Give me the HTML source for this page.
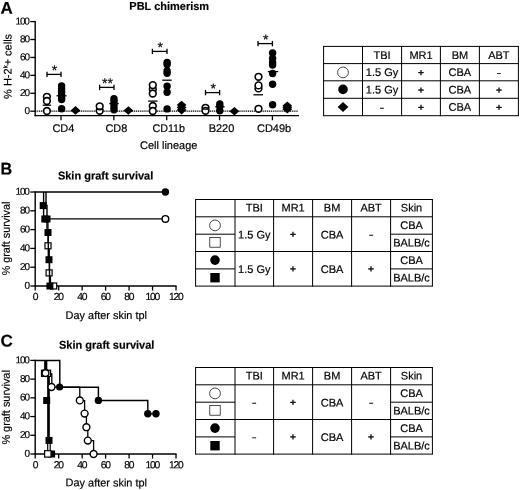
<!DOCTYPE html>
<html><head><meta charset="utf-8"><title>Figure</title>
<style>html,body{margin:0;padding:0;background:#fff}svg{display:block;will-change:transform}text{font-family:"Liberation Sans", sans-serif;fill:#000;text-rendering:geometricPrecision;stroke:#000;stroke-width:0.18px}</style>
</head><body>
<svg width="520" height="490" viewBox="0 0 520 490">
<rect width="520" height="490" fill="#fff"/>
<text x="0.5" y="13.7" transform="rotate(0.03 0.5 13.7)" font-size="17" text-anchor="start" font-weight="bold" >A</text>
<text x="169.2" y="9.9" transform="rotate(0.03 169.2 9.9)" font-size="11.3" text-anchor="middle" font-weight="bold" textLength="79.8" lengthAdjust="spacingAndGlyphs" >PBL chimerism</text>
<line x1="35.2" y1="20.9" x2="35.2" y2="116.3" stroke="#000" stroke-width="1.4" />
<line x1="34.5" y1="115.6" x2="299" y2="115.6" stroke="#000" stroke-width="1.4" />
<line x1="30.3" y1="111.2" x2="35.2" y2="111.2" stroke="#000" stroke-width="1.3" />
<text x="28.8" y="114.0" transform="rotate(0.03 28.8 114.0)" font-size="10" text-anchor="end" letter-spacing="-1.15">0</text>
<line x1="30.3" y1="93.28" x2="35.2" y2="93.28" stroke="#000" stroke-width="1.3" />
<text x="28.8" y="96.08" transform="rotate(0.03 28.8 96.08)" font-size="10" text-anchor="end" letter-spacing="-1.15">20</text>
<line x1="30.3" y1="75.36" x2="35.2" y2="75.36" stroke="#000" stroke-width="1.3" />
<text x="28.8" y="78.16" transform="rotate(0.03 28.8 78.16)" font-size="10" text-anchor="end" letter-spacing="-1.15">40</text>
<line x1="30.3" y1="57.44" x2="35.2" y2="57.44" stroke="#000" stroke-width="1.3" />
<text x="28.8" y="60.239999999999995" transform="rotate(0.03 28.8 60.239999999999995)" font-size="10" text-anchor="end" letter-spacing="-1.15">60</text>
<line x1="30.3" y1="39.519999999999996" x2="35.2" y2="39.519999999999996" stroke="#000" stroke-width="1.3" />
<text x="28.8" y="42.31999999999999" transform="rotate(0.03 28.8 42.31999999999999)" font-size="10" text-anchor="end" letter-spacing="-1.15">80</text>
<line x1="30.3" y1="21.599999999999994" x2="35.2" y2="21.599999999999994" stroke="#000" stroke-width="1.3" />
<text x="28.8" y="24.399999999999995" transform="rotate(0.03 28.8 24.399999999999995)" font-size="10" text-anchor="end" letter-spacing="-1.15">100</text>
<line x1="35.2" y1="111.2" x2="298" y2="111.2" stroke="#000" stroke-width="1.3" stroke-dasharray="1.2 0.7"/>
<line x1="61" y1="115.6" x2="61" y2="120.2" stroke="#000" stroke-width="1.3" />
<line x1="113.85" y1="115.6" x2="113.85" y2="120.2" stroke="#000" stroke-width="1.3" />
<line x1="166.7" y1="115.6" x2="166.7" y2="120.2" stroke="#000" stroke-width="1.3" />
<line x1="219.55" y1="115.6" x2="219.55" y2="120.2" stroke="#000" stroke-width="1.3" />
<line x1="272.4" y1="115.6" x2="272.4" y2="120.2" stroke="#000" stroke-width="1.3" />
<text transform="translate(11.6,66.4) rotate(-90.03)" font-size="11" text-anchor="middle">% H-2<tspan font-size="6" dy="-4.2">k</tspan><tspan dy="4.2">+ cells</tspan></text>
<text x="63.4" y="132" transform="rotate(0.03 63.4 132)" font-size="11" text-anchor="middle" textLength="22" lengthAdjust="spacingAndGlyphs" >CD4</text>
<text x="116.4" y="132" transform="rotate(0.03 116.4 132)" font-size="11" text-anchor="middle" textLength="21.8" lengthAdjust="spacingAndGlyphs" >CD8</text>
<text x="168.7" y="132" transform="rotate(0.03 168.7 132)" font-size="11" text-anchor="middle" textLength="32.6" lengthAdjust="spacingAndGlyphs" >CD11b</text>
<text x="221.5" y="132" transform="rotate(0.03 221.5 132)" font-size="11" text-anchor="middle" >B220</text>
<text x="274.1" y="132" transform="rotate(0.03 274.1 132)" font-size="11" text-anchor="middle" >CD49b</text>
<text x="168.7" y="149" transform="rotate(0.03 168.7 149)" font-size="11" text-anchor="middle" textLength="57.4" lengthAdjust="spacingAndGlyphs" >Cell lineage</text>
<circle cx="46.9" cy="96.8" r="3.35" fill="#fff" stroke="#000" stroke-width="1.6"/>
<circle cx="46.9" cy="101" r="3.35" fill="#fff" stroke="#000" stroke-width="1.6"/>
<circle cx="46.9" cy="111" r="3.35" fill="#fff" stroke="#000" stroke-width="1.6"/>
<line x1="42.699999999999996" y1="105.2" x2="51.1" y2="105.2" stroke="#000" stroke-width="1.3" />
<circle cx="61.6" cy="86" r="3.7" fill="#000"/>
<circle cx="61.6" cy="89" r="3.7" fill="#000"/>
<circle cx="61.6" cy="92" r="3.7" fill="#000"/>
<circle cx="61.6" cy="95" r="3.7" fill="#000"/>
<circle cx="61.6" cy="98" r="3.7" fill="#000"/>
<circle cx="61.6" cy="99.6" r="3.7" fill="#000"/>
<circle cx="61.6" cy="108.7" r="3.7" fill="#000"/>
<line x1="56.5" y1="95.8" x2="66.5" y2="95.8" stroke="#000" stroke-width="1.3" />
<polygon points="70.6,110.4 75.5,106.10000000000001 80.4,110.4 75.5,114.7" fill="#000"/>
<line x1="47" y1="74.4" x2="61" y2="74.4" stroke="#000" stroke-width="1.3" />
<line x1="47" y1="71.7" x2="47" y2="77.10000000000001" stroke="#000" stroke-width="1.3" />
<line x1="61" y1="71.7" x2="61" y2="77.10000000000001" stroke="#000" stroke-width="1.3" />
<text x="54.6" y="75.10000000000001" transform="rotate(0.03 54.6 75.10000000000001)" font-size="14" text-anchor="middle" >*</text>
<circle cx="99.7" cy="110.8" r="3.35" fill="#fff" stroke="#000" stroke-width="1.6"/>
<circle cx="99.7" cy="106.3" r="3.35" fill="#fff" stroke="#000" stroke-width="1.6"/>
<line x1="96.10000000000001" y1="109.1" x2="103.3" y2="109.1" stroke="#000" stroke-width="1.3" />
<circle cx="114" cy="98.8" r="3.7" fill="#000"/>
<circle cx="114" cy="101" r="3.7" fill="#000"/>
<circle cx="114" cy="104" r="3.7" fill="#000"/>
<circle cx="114" cy="107" r="3.7" fill="#000"/>
<circle cx="114" cy="109.7" r="3.7" fill="#000"/>
<line x1="109.3" y1="103.6" x2="118.7" y2="103.6" stroke="#000" stroke-width="1.3" />
<polygon points="123.5,110.5 128.4,106.2 133.3,110.5 128.4,114.8" fill="#000"/>
<line x1="99.6" y1="87.4" x2="114" y2="87.4" stroke="#000" stroke-width="1.3" />
<line x1="99.6" y1="84.7" x2="99.6" y2="90.10000000000001" stroke="#000" stroke-width="1.3" />
<line x1="114" y1="84.7" x2="114" y2="90.10000000000001" stroke="#000" stroke-width="1.3" />
<text x="107.39999999999999" y="88.10000000000001" transform="rotate(0.03 107.39999999999999 88.10000000000001)" font-size="14" text-anchor="middle" >**</text>
<circle cx="152.8" cy="89.3" r="3.35" fill="#fff" stroke="#000" stroke-width="1.6"/>
<circle cx="152.8" cy="85.1" r="3.35" fill="#fff" stroke="#000" stroke-width="1.6"/>
<circle cx="152.8" cy="93.5" r="3.35" fill="#fff" stroke="#000" stroke-width="1.6"/>
<circle cx="152.8" cy="106" r="3.35" fill="#fff" stroke="#000" stroke-width="1.6"/>
<circle cx="152.8" cy="111" r="3.35" fill="#fff" stroke="#000" stroke-width="1.6"/>
<line x1="148.10000000000002" y1="101.1" x2="157.5" y2="101.1" stroke="#000" stroke-width="1.3" />
<circle cx="167.1" cy="62.4" r="3.7" fill="#000"/>
<circle cx="167.1" cy="64.5" r="3.7" fill="#000"/>
<circle cx="167.1" cy="71" r="3.7" fill="#000"/>
<circle cx="167.1" cy="73.2" r="3.7" fill="#000"/>
<circle cx="167.1" cy="86.3" r="3.7" fill="#000"/>
<circle cx="167.1" cy="92.2" r="3.7" fill="#000"/>
<circle cx="167.1" cy="108.9" r="3.7" fill="#000"/>
<line x1="162.3" y1="80.2" x2="171.7" y2="80.2" stroke="#000" stroke-width="1.3" />
<polygon points="176.7,105 181.6,100.7 186.5,105 181.6,109.3" fill="#000"/>
<polygon points="176.7,107.6 181.6,103.3 186.5,107.6 181.6,111.89999999999999" fill="#000"/>
<polygon points="176.7,110.1 181.6,105.8 186.5,110.1 181.6,114.39999999999999" fill="#000"/>
<line x1="152.4" y1="51.4" x2="167" y2="51.4" stroke="#000" stroke-width="1.3" />
<line x1="152.4" y1="48.699999999999996" x2="152.4" y2="54.1" stroke="#000" stroke-width="1.3" />
<line x1="167" y1="48.699999999999996" x2="167" y2="54.1" stroke="#000" stroke-width="1.3" />
<text x="160.29999999999998" y="52.1" transform="rotate(0.03 160.29999999999998 52.1)" font-size="14" text-anchor="middle" >*</text>
<circle cx="205.5" cy="107.8" r="3.35" fill="#fff" stroke="#000" stroke-width="1.6"/>
<circle cx="205.5" cy="110.8" r="3.35" fill="#fff" stroke="#000" stroke-width="1.6"/>
<line x1="201.9" y1="109.1" x2="209.1" y2="109.1" stroke="#000" stroke-width="1.3" />
<circle cx="219.8" cy="103.9" r="3.7" fill="#000"/>
<circle cx="219.8" cy="106.5" r="3.7" fill="#000"/>
<circle cx="219.8" cy="110.7" r="3.7" fill="#000"/>
<line x1="215.20000000000002" y1="106.8" x2="224.6" y2="106.8" stroke="#000" stroke-width="1.3" />
<polygon points="229.5,111.2 234.4,106.9 239.3,111.2 234.4,115.5" fill="#000"/>
<line x1="205.5" y1="92.6" x2="219.6" y2="92.6" stroke="#000" stroke-width="1.3" />
<line x1="205.5" y1="89.89999999999999" x2="205.5" y2="95.3" stroke="#000" stroke-width="1.3" />
<line x1="219.6" y1="89.89999999999999" x2="219.6" y2="95.3" stroke="#000" stroke-width="1.3" />
<text x="213.15" y="93.3" transform="rotate(0.03 213.15 93.3)" font-size="14" text-anchor="middle" >*</text>
<circle cx="258.5" cy="88.4" r="3.35" fill="#fff" stroke="#000" stroke-width="1.6"/>
<circle cx="258.5" cy="85.4" r="3.35" fill="#fff" stroke="#000" stroke-width="1.6"/>
<circle cx="258.5" cy="76.8" r="3.35" fill="#fff" stroke="#000" stroke-width="1.6"/>
<circle cx="258.5" cy="108.8" r="3.35" fill="#fff" stroke="#000" stroke-width="1.6"/>
<line x1="253.39999999999998" y1="94.8" x2="263.0" y2="94.8" stroke="#000" stroke-width="1.3" />
<circle cx="272.6" cy="52.9" r="3.7" fill="#000"/>
<circle cx="272.6" cy="58.5" r="3.7" fill="#000"/>
<circle cx="272.6" cy="62.4" r="3.7" fill="#000"/>
<circle cx="272.6" cy="65" r="3.7" fill="#000"/>
<circle cx="272.6" cy="73.5" r="3.7" fill="#000"/>
<circle cx="272.6" cy="84.3" r="3.7" fill="#000"/>
<circle cx="272.6" cy="104.7" r="3.7" fill="#000"/>
<line x1="267.8" y1="71.6" x2="278.2" y2="71.6" stroke="#000" stroke-width="1.3" />
<polygon points="282.40000000000003,105.7 287.3,101.4 292.2,105.7 287.3,110.0" fill="#000"/>
<polygon points="282.40000000000003,107.5 287.3,103.2 292.2,107.5 287.3,111.8" fill="#000"/>
<polygon points="282.40000000000003,109.2 287.3,104.9 292.2,109.2 287.3,113.5" fill="#000"/>
<line x1="258" y1="43.6" x2="272.4" y2="43.6" stroke="#000" stroke-width="1.3" />
<line x1="258" y1="40.9" x2="258" y2="46.300000000000004" stroke="#000" stroke-width="1.3" />
<line x1="272.4" y1="40.9" x2="272.4" y2="46.300000000000004" stroke="#000" stroke-width="1.3" />
<text x="265.8" y="44.300000000000004" transform="rotate(0.03 265.8 44.300000000000004)" font-size="14" text-anchor="middle" >*</text>
<line x1="323.6" y1="45.9" x2="323.6" y2="116.2" stroke="#000" stroke-width="1.0" />
<line x1="362.5" y1="45.9" x2="362.5" y2="116.2" stroke="#000" stroke-width="1.0" />
<line x1="401.6" y1="45.9" x2="401.6" y2="116.2" stroke="#000" stroke-width="1.0" />
<line x1="440.4" y1="45.9" x2="440.4" y2="116.2" stroke="#000" stroke-width="1.0" />
<line x1="479.4" y1="45.9" x2="479.4" y2="116.2" stroke="#000" stroke-width="1.0" />
<line x1="518.4" y1="45.9" x2="518.4" y2="116.2" stroke="#000" stroke-width="1.0" />
<line x1="323.6" y1="46.4" x2="518.4" y2="46.4" stroke="#000" stroke-width="1.0" />
<line x1="323.6" y1="63.6" x2="518.4" y2="63.6" stroke="#000" stroke-width="1.0" />
<line x1="323.6" y1="80.8" x2="518.4" y2="80.8" stroke="#000" stroke-width="1.0" />
<line x1="323.6" y1="98.3" x2="518.4" y2="98.3" stroke="#000" stroke-width="1.0" />
<line x1="323.6" y1="115.7" x2="518.4" y2="115.7" stroke="#000" stroke-width="1.0" />
<text x="382.05" y="58.9" transform="rotate(0.03 382.05 58.9)" font-size="11" text-anchor="middle" >TBI</text>
<text x="421.0" y="58.9" transform="rotate(0.03 421.0 58.9)" font-size="11" text-anchor="middle" >MR1</text>
<text x="459.9" y="58.9" transform="rotate(0.03 459.9 58.9)" font-size="11" text-anchor="middle" >BM</text>
<text x="498.9" y="58.9" transform="rotate(0.03 498.9 58.9)" font-size="11" text-anchor="middle" >ABT</text>
<circle cx="343" cy="72.4" r="5.4" fill="#fff" stroke="#000" stroke-width="0.7"/>
<text x="382.05" y="76" transform="rotate(0.03 382.05 76)" font-size="11" text-anchor="middle" >1.5 Gy</text>
<text x="421.0" y="76" transform="rotate(0.03 421.0 76)" font-size="10.2" text-anchor="middle"  style="stroke-width:0.4px">+</text>
<text x="459.9" y="76" transform="rotate(0.03 459.9 76)" font-size="11" text-anchor="middle" >CBA</text>
<text x="498.9" y="76.5" transform="rotate(0.03 498.9 76.5)" font-size="11" text-anchor="middle" textLength="4.9" lengthAdjust="spacingAndGlyphs" >-</text>
<circle cx="343" cy="89.4" r="4.8" fill="#000"/>
<text x="382.05" y="93.4" transform="rotate(0.03 382.05 93.4)" font-size="11" text-anchor="middle" >1.5 Gy</text>
<text x="421.0" y="93.4" transform="rotate(0.03 421.0 93.4)" font-size="10.2" text-anchor="middle"  style="stroke-width:0.4px">+</text>
<text x="459.9" y="93.4" transform="rotate(0.03 459.9 93.4)" font-size="11" text-anchor="middle" >CBA</text>
<text x="498.9" y="93.4" transform="rotate(0.03 498.9 93.4)" font-size="10.2" text-anchor="middle"  style="stroke-width:0.4px">+</text>
<polygon points="337.6,107 343,102 348.4,107 343,112" fill="#000"/>
<text x="382.05" y="111.3" transform="rotate(0.03 382.05 111.3)" font-size="11" text-anchor="middle" textLength="4.9" lengthAdjust="spacingAndGlyphs" >-</text>
<text x="421.0" y="110.8" transform="rotate(0.03 421.0 110.8)" font-size="10.2" text-anchor="middle"  style="stroke-width:0.4px">+</text>
<text x="459.9" y="110.8" transform="rotate(0.03 459.9 110.8)" font-size="11" text-anchor="middle" >CBA</text>
<text x="498.9" y="110.8" transform="rotate(0.03 498.9 110.8)" font-size="10.2" text-anchor="middle"  style="stroke-width:0.4px">+</text>
<line x1="195.6" y1="199.0" x2="195.6" y2="286.6" stroke="#000" stroke-width="1.0" />
<line x1="235" y1="199.0" x2="235" y2="286.6" stroke="#000" stroke-width="1.0" />
<line x1="273.6" y1="199.0" x2="273.6" y2="286.6" stroke="#000" stroke-width="1.0" />
<line x1="312.6" y1="199.0" x2="312.6" y2="286.6" stroke="#000" stroke-width="1.0" />
<line x1="351.6" y1="199.0" x2="351.6" y2="286.6" stroke="#000" stroke-width="1.0" />
<line x1="390.6" y1="199.0" x2="390.6" y2="286.6" stroke="#000" stroke-width="1.0" />
<line x1="432.4" y1="199.0" x2="432.4" y2="286.6" stroke="#000" stroke-width="1.0" />
<line x1="195.6" y1="199.5" x2="432.4" y2="199.5" stroke="#000" stroke-width="1.0" />
<line x1="195.6" y1="216.8" x2="432.4" y2="216.8" stroke="#000" stroke-width="1.0" />
<line x1="195.6" y1="251.5" x2="432.4" y2="251.5" stroke="#000" stroke-width="1.0" />
<line x1="195.6" y1="286.1" x2="432.4" y2="286.1" stroke="#000" stroke-width="1.0" />
<line x1="195.6" y1="234.2" x2="235" y2="234.2" stroke="#000" stroke-width="1.0" />
<line x1="390.6" y1="234.2" x2="432.4" y2="234.2" stroke="#000" stroke-width="1.0" />
<line x1="195.6" y1="268.9" x2="235" y2="268.9" stroke="#000" stroke-width="1.0" />
<line x1="390.6" y1="268.9" x2="432.4" y2="268.9" stroke="#000" stroke-width="1.0" />
<text x="254.3" y="211.6" transform="rotate(0.03 254.3 211.6)" font-size="11" text-anchor="middle" >TBI</text>
<text x="293.1" y="211.6" transform="rotate(0.03 293.1 211.6)" font-size="11" text-anchor="middle" >MR1</text>
<text x="332.1" y="211.6" transform="rotate(0.03 332.1 211.6)" font-size="11" text-anchor="middle" >BM</text>
<text x="371.1" y="211.6" transform="rotate(0.03 371.1 211.6)" font-size="11" text-anchor="middle" >ABT</text>
<text x="411.5" y="211.6" transform="rotate(0.03 411.5 211.6)" font-size="11" text-anchor="middle" >Skin</text>
<circle cx="215" cy="225.4" r="5.4" fill="#fff" stroke="#000" stroke-width="0.7"/>
<rect x="209.8" y="237.6" width="10.4" height="9.6" fill="#fff" stroke="#000" stroke-width="0.7"/>
<circle cx="215" cy="260.1" r="4.8" fill="#000"/>
<rect x="210.3" y="273.0" width="9.4" height="9.4" fill="#000"/>
<text x="254.3" y="238.6" transform="rotate(0.03 254.3 238.6)" font-size="11" text-anchor="middle" >1.5 Gy</text>
<text x="293.1" y="237.79999999999998" transform="rotate(0.03 293.1 237.79999999999998)" font-size="10.2" text-anchor="middle"  style="stroke-width:0.4px">+</text>
<text x="332.1" y="238.6" transform="rotate(0.03 332.1 238.6)" font-size="11" text-anchor="middle" >CBA</text>
<text x="371.1" y="238.29999999999998" transform="rotate(0.03 371.1 238.29999999999998)" font-size="11" text-anchor="middle" textLength="4.9" lengthAdjust="spacingAndGlyphs" >-</text>
<text x="254.3" y="273" transform="rotate(0.03 254.3 273)" font-size="11" text-anchor="middle" >1.5 Gy</text>
<text x="293.1" y="272.2" transform="rotate(0.03 293.1 272.2)" font-size="10.2" text-anchor="middle"  style="stroke-width:0.4px">+</text>
<text x="332.1" y="273" transform="rotate(0.03 332.1 273)" font-size="11" text-anchor="middle" >CBA</text>
<text x="371.1" y="272.2" transform="rotate(0.03 371.1 272.2)" font-size="10.2" text-anchor="middle"  style="stroke-width:0.4px">+</text>
<text x="411.5" y="229.1" transform="rotate(0.03 411.5 229.1)" font-size="11" text-anchor="middle" >CBA</text>
<text x="411.5" y="246.5" transform="rotate(0.03 411.5 246.5)" font-size="11" text-anchor="middle" >BALB/c</text>
<text x="411.5" y="264.1" transform="rotate(0.03 411.5 264.1)" font-size="11" text-anchor="middle" >CBA</text>
<text x="411.5" y="281.5" transform="rotate(0.03 411.5 281.5)" font-size="11" text-anchor="middle" >BALB/c</text>
<line x1="195.6" y1="367.0" x2="195.6" y2="454.6" stroke="#000" stroke-width="1.0" />
<line x1="235" y1="367.0" x2="235" y2="454.6" stroke="#000" stroke-width="1.0" />
<line x1="273.6" y1="367.0" x2="273.6" y2="454.6" stroke="#000" stroke-width="1.0" />
<line x1="312.6" y1="367.0" x2="312.6" y2="454.6" stroke="#000" stroke-width="1.0" />
<line x1="351.6" y1="367.0" x2="351.6" y2="454.6" stroke="#000" stroke-width="1.0" />
<line x1="390.6" y1="367.0" x2="390.6" y2="454.6" stroke="#000" stroke-width="1.0" />
<line x1="432.4" y1="367.0" x2="432.4" y2="454.6" stroke="#000" stroke-width="1.0" />
<line x1="195.6" y1="367.5" x2="432.4" y2="367.5" stroke="#000" stroke-width="1.0" />
<line x1="195.6" y1="384.8" x2="432.4" y2="384.8" stroke="#000" stroke-width="1.0" />
<line x1="195.6" y1="419.5" x2="432.4" y2="419.5" stroke="#000" stroke-width="1.0" />
<line x1="195.6" y1="454.1" x2="432.4" y2="454.1" stroke="#000" stroke-width="1.0" />
<line x1="195.6" y1="402.2" x2="235" y2="402.2" stroke="#000" stroke-width="1.0" />
<line x1="390.6" y1="402.2" x2="432.4" y2="402.2" stroke="#000" stroke-width="1.0" />
<line x1="195.6" y1="436.9" x2="235" y2="436.9" stroke="#000" stroke-width="1.0" />
<line x1="390.6" y1="436.9" x2="432.4" y2="436.9" stroke="#000" stroke-width="1.0" />
<text x="254.3" y="379.6" transform="rotate(0.03 254.3 379.6)" font-size="11" text-anchor="middle" >TBI</text>
<text x="293.1" y="379.6" transform="rotate(0.03 293.1 379.6)" font-size="11" text-anchor="middle" >MR1</text>
<text x="332.1" y="379.6" transform="rotate(0.03 332.1 379.6)" font-size="11" text-anchor="middle" >BM</text>
<text x="371.1" y="379.6" transform="rotate(0.03 371.1 379.6)" font-size="11" text-anchor="middle" >ABT</text>
<text x="411.5" y="379.6" transform="rotate(0.03 411.5 379.6)" font-size="11" text-anchor="middle" >Skin</text>
<circle cx="215" cy="393.4" r="5.4" fill="#fff" stroke="#000" stroke-width="0.7"/>
<rect x="209.8" y="405.59999999999997" width="10.4" height="9.6" fill="#fff" stroke="#000" stroke-width="0.7"/>
<circle cx="215" cy="428.1" r="4.8" fill="#000"/>
<rect x="210.3" y="441.0" width="9.4" height="9.4" fill="#000"/>
<text x="254.3" y="406.3" transform="rotate(0.03 254.3 406.3)" font-size="11" text-anchor="middle" textLength="4.9" lengthAdjust="spacingAndGlyphs" >-</text>
<text x="293.1" y="405.8" transform="rotate(0.03 293.1 405.8)" font-size="10.2" text-anchor="middle"  style="stroke-width:0.4px">+</text>
<text x="332.1" y="406.6" transform="rotate(0.03 332.1 406.6)" font-size="11" text-anchor="middle" >CBA</text>
<text x="371.1" y="406.3" transform="rotate(0.03 371.1 406.3)" font-size="11" text-anchor="middle" textLength="4.9" lengthAdjust="spacingAndGlyphs" >-</text>
<text x="254.3" y="440.7" transform="rotate(0.03 254.3 440.7)" font-size="11" text-anchor="middle" textLength="4.9" lengthAdjust="spacingAndGlyphs" >-</text>
<text x="293.1" y="440.2" transform="rotate(0.03 293.1 440.2)" font-size="10.2" text-anchor="middle"  style="stroke-width:0.4px">+</text>
<text x="332.1" y="441.0" transform="rotate(0.03 332.1 441.0)" font-size="11" text-anchor="middle" >CBA</text>
<text x="371.1" y="440.2" transform="rotate(0.03 371.1 440.2)" font-size="10.2" text-anchor="middle"  style="stroke-width:0.4px">+</text>
<text x="411.5" y="397.1" transform="rotate(0.03 411.5 397.1)" font-size="11" text-anchor="middle" >CBA</text>
<text x="411.5" y="414.5" transform="rotate(0.03 411.5 414.5)" font-size="11" text-anchor="middle" >BALB/c</text>
<text x="411.5" y="432.1" transform="rotate(0.03 411.5 432.1)" font-size="11" text-anchor="middle" >CBA</text>
<text x="411.5" y="449.5" transform="rotate(0.03 411.5 449.5)" font-size="11" text-anchor="middle" >BALB/c</text>
<text x="0.6" y="174.4" transform="rotate(0.03 0.6 174.4)" font-size="17" text-anchor="start" font-weight="bold" textLength="11.6" lengthAdjust="spacingAndGlyphs" >B</text>
<text x="105.6" y="179.6" transform="rotate(0.03 105.6 179.6)" font-size="11.3" text-anchor="middle" font-weight="bold" textLength="95.4" lengthAdjust="spacingAndGlyphs" >Skin graft survival</text>
<line x1="35.2" y1="191.3" x2="35.2" y2="286.7" stroke="#000" stroke-width="1.4" />
<line x1="35.2" y1="286.0" x2="176.6" y2="286.0" stroke="#000" stroke-width="1.4" />
<line x1="30.3" y1="286.0" x2="35.2" y2="286.0" stroke="#000" stroke-width="1.3" />
<text x="28.8" y="288.8" transform="rotate(0.03 28.8 288.8)" font-size="10" text-anchor="end" letter-spacing="-1.15">0</text>
<line x1="30.3" y1="267.2" x2="35.2" y2="267.2" stroke="#000" stroke-width="1.3" />
<text x="28.8" y="270.0" transform="rotate(0.03 28.8 270.0)" font-size="10" text-anchor="end" letter-spacing="-1.15">20</text>
<line x1="30.3" y1="248.4" x2="35.2" y2="248.4" stroke="#000" stroke-width="1.3" />
<text x="28.8" y="251.20000000000002" transform="rotate(0.03 28.8 251.20000000000002)" font-size="10" text-anchor="end" letter-spacing="-1.15">40</text>
<line x1="30.3" y1="229.6" x2="35.2" y2="229.6" stroke="#000" stroke-width="1.3" />
<text x="28.8" y="232.4" transform="rotate(0.03 28.8 232.4)" font-size="10" text-anchor="end" letter-spacing="-1.15">60</text>
<line x1="30.3" y1="210.8" x2="35.2" y2="210.8" stroke="#000" stroke-width="1.3" />
<text x="28.8" y="213.60000000000002" transform="rotate(0.03 28.8 213.60000000000002)" font-size="10" text-anchor="end" letter-spacing="-1.15">80</text>
<line x1="30.3" y1="192.0" x2="35.2" y2="192.0" stroke="#000" stroke-width="1.3" />
<text x="28.8" y="194.8" transform="rotate(0.03 28.8 194.8)" font-size="10" text-anchor="end" letter-spacing="-1.15">100</text>
<line x1="35.2" y1="286.0" x2="35.2" y2="290.6" stroke="#000" stroke-width="1.3" />
<text x="34.900000000000006" y="300.0" transform="rotate(0.03 34.900000000000006 300.0)" font-size="10.3" text-anchor="middle" letter-spacing="-1.2">0</text>
<line x1="58.67" y1="286.0" x2="58.67" y2="290.6" stroke="#000" stroke-width="1.3" />
<text x="58.370000000000005" y="300.0" transform="rotate(0.03 58.370000000000005 300.0)" font-size="10.3" text-anchor="middle" letter-spacing="-1.2">20</text>
<line x1="82.14" y1="286.0" x2="82.14" y2="290.6" stroke="#000" stroke-width="1.3" />
<text x="81.84" y="300.0" transform="rotate(0.03 81.84 300.0)" font-size="10.3" text-anchor="middle" letter-spacing="-1.2">40</text>
<line x1="105.61" y1="286.0" x2="105.61" y2="290.6" stroke="#000" stroke-width="1.3" />
<text x="105.31" y="300.0" transform="rotate(0.03 105.31 300.0)" font-size="10.3" text-anchor="middle" letter-spacing="-1.2">60</text>
<line x1="129.07999999999998" y1="286.0" x2="129.07999999999998" y2="290.6" stroke="#000" stroke-width="1.3" />
<text x="128.77999999999997" y="300.0" transform="rotate(0.03 128.77999999999997 300.0)" font-size="10.3" text-anchor="middle" letter-spacing="-1.2">80</text>
<line x1="152.55" y1="286.0" x2="152.55" y2="290.6" stroke="#000" stroke-width="1.3" />
<text x="152.25" y="300.0" transform="rotate(0.03 152.25 300.0)" font-size="10.3" text-anchor="middle" letter-spacing="-1.2">100</text>
<line x1="176.01999999999998" y1="286.0" x2="176.01999999999998" y2="290.6" stroke="#000" stroke-width="1.3" />
<text x="175.71999999999997" y="300.0" transform="rotate(0.03 175.71999999999997 300.0)" font-size="10.3" text-anchor="middle" letter-spacing="-1.2">120</text>
<text x="106.3" y="319" transform="rotate(0.03 106.3 319)" font-size="11" text-anchor="middle" textLength="81.4" lengthAdjust="spacingAndGlyphs" >Day after skin tpl</text>
<text transform="translate(9.7,238.5) rotate(-90.03)" font-size="11" text-anchor="middle" textLength="73.6" lengthAdjust="spacingAndGlyphs">% graft survival</text>
<path d="M35.20,192.00 L165.40,192.00" fill="none" stroke="#000" stroke-width="1.5" stroke-linejoin="miter"/>
<path d="M43.60,192.00 L43.60,218.88 L165.40,218.88" fill="none" stroke="#000" stroke-width="1.4" stroke-linejoin="miter"/>
<path d="M48.00,218.88 L48.00,245.58 L49.30,245.58 L49.30,272.56 L50.50,272.56 L50.50,286.00 L53.60,286.00" fill="none" stroke="#000" stroke-width="1.2" stroke-linejoin="miter"/>
<rect x="45.0" y="242.8" width="6.0" height="6.0" fill="#fff" stroke="#000" stroke-width="1.2"/>
<rect x="46.1" y="269.9" width="6.0" height="6.0" fill="#fff" stroke="#000" stroke-width="1.2"/>
<rect x="50.7" y="283.0" width="6.0" height="6.0" fill="#fff" stroke="#000" stroke-width="1.2"/>
<path d="M46.00,192.00 L46.00,205.44 L47.00,205.44 L47.00,232.42 L48.30,232.42 L48.30,259.12 L49.50,259.12 L49.50,286.00 L50.00,286.00" fill="none" stroke="#000" stroke-width="1.4" stroke-linejoin="miter"/>
<rect x="39.7" y="202.1" width="7.0" height="7.0" fill="#000"/>
<rect x="41.3" y="215.5" width="7.0" height="7.0" fill="#000"/>
<rect x="43.5" y="215.5" width="7.0" height="7.0" fill="#000"/>
<rect x="44.5" y="229.0" width="7.0" height="7.0" fill="#000"/>
<rect x="45.5" y="256.2" width="7.0" height="7.0" fill="#000"/>
<rect x="46.4" y="282.5" width="7.0" height="7.0" fill="#000"/>
<circle cx="165.4" cy="192.0" r="3.7" fill="#000"/>
<circle cx="165.4" cy="218.88400000000001" r="3.3" fill="#fff" stroke="#000" stroke-width="1.4"/>
<text x="0.6" y="346.4" transform="rotate(0.03 0.6 346.4)" font-size="17" text-anchor="start" font-weight="bold" >C</text>
<text x="106.7" y="348.8" transform="rotate(0.03 106.7 348.8)" font-size="11.3" text-anchor="middle" font-weight="bold" textLength="95.4" lengthAdjust="spacingAndGlyphs" >Skin graft survival</text>
<line x1="35.2" y1="359.7" x2="35.2" y2="454.7" stroke="#000" stroke-width="1.4" />
<line x1="35.2" y1="454" x2="176.6" y2="454" stroke="#000" stroke-width="1.4" />
<line x1="30.3" y1="454.0" x2="35.2" y2="454.0" stroke="#000" stroke-width="1.3" />
<text x="28.8" y="456.8" transform="rotate(0.03 28.8 456.8)" font-size="10" text-anchor="end" letter-spacing="-1.15">0</text>
<line x1="30.3" y1="435.28" x2="35.2" y2="435.28" stroke="#000" stroke-width="1.3" />
<text x="28.8" y="438.08" transform="rotate(0.03 28.8 438.08)" font-size="10" text-anchor="end" letter-spacing="-1.15">20</text>
<line x1="30.3" y1="416.56" x2="35.2" y2="416.56" stroke="#000" stroke-width="1.3" />
<text x="28.8" y="419.36" transform="rotate(0.03 28.8 419.36)" font-size="10" text-anchor="end" letter-spacing="-1.15">40</text>
<line x1="30.3" y1="397.84" x2="35.2" y2="397.84" stroke="#000" stroke-width="1.3" />
<text x="28.8" y="400.64" transform="rotate(0.03 28.8 400.64)" font-size="10" text-anchor="end" letter-spacing="-1.15">60</text>
<line x1="30.3" y1="379.12" x2="35.2" y2="379.12" stroke="#000" stroke-width="1.3" />
<text x="28.8" y="381.92" transform="rotate(0.03 28.8 381.92)" font-size="10" text-anchor="end" letter-spacing="-1.15">80</text>
<line x1="30.3" y1="360.4" x2="35.2" y2="360.4" stroke="#000" stroke-width="1.3" />
<text x="28.8" y="363.2" transform="rotate(0.03 28.8 363.2)" font-size="10" text-anchor="end" letter-spacing="-1.15">100</text>
<line x1="35.2" y1="454" x2="35.2" y2="458.6" stroke="#000" stroke-width="1.3" />
<text x="34.900000000000006" y="468.3" transform="rotate(0.03 34.900000000000006 468.3)" font-size="10.3" text-anchor="middle" letter-spacing="-1.2">0</text>
<line x1="58.67" y1="454" x2="58.67" y2="458.6" stroke="#000" stroke-width="1.3" />
<text x="58.370000000000005" y="468.3" transform="rotate(0.03 58.370000000000005 468.3)" font-size="10.3" text-anchor="middle" letter-spacing="-1.2">20</text>
<line x1="82.14" y1="454" x2="82.14" y2="458.6" stroke="#000" stroke-width="1.3" />
<text x="81.84" y="468.3" transform="rotate(0.03 81.84 468.3)" font-size="10.3" text-anchor="middle" letter-spacing="-1.2">40</text>
<line x1="105.61" y1="454" x2="105.61" y2="458.6" stroke="#000" stroke-width="1.3" />
<text x="105.31" y="468.3" transform="rotate(0.03 105.31 468.3)" font-size="10.3" text-anchor="middle" letter-spacing="-1.2">60</text>
<line x1="129.07999999999998" y1="454" x2="129.07999999999998" y2="458.6" stroke="#000" stroke-width="1.3" />
<text x="128.77999999999997" y="468.3" transform="rotate(0.03 128.77999999999997 468.3)" font-size="10.3" text-anchor="middle" letter-spacing="-1.2">80</text>
<line x1="152.55" y1="454" x2="152.55" y2="458.6" stroke="#000" stroke-width="1.3" />
<text x="152.25" y="468.3" transform="rotate(0.03 152.25 468.3)" font-size="10.3" text-anchor="middle" letter-spacing="-1.2">100</text>
<line x1="176.01999999999998" y1="454" x2="176.01999999999998" y2="458.6" stroke="#000" stroke-width="1.3" />
<text x="175.71999999999997" y="468.3" transform="rotate(0.03 175.71999999999997 468.3)" font-size="10.3" text-anchor="middle" letter-spacing="-1.2">120</text>
<text x="106.3" y="486.4" transform="rotate(0.03 106.3 486.4)" font-size="11" text-anchor="middle" textLength="81.4" lengthAdjust="spacingAndGlyphs" >Day after skin tpl</text>
<text transform="translate(9.7,407.4) rotate(-90.03)" font-size="11" text-anchor="middle" textLength="74.4" lengthAdjust="spacingAndGlyphs">% graft survival</text>
<path d="M35.20,360.40 L59.80,360.40 L59.80,387.17 L98.40,387.17 L98.40,400.55 L147.80,400.55 L147.80,413.85 L156.00,413.85" fill="none" stroke="#000" stroke-width="1.45" stroke-linejoin="miter"/>
<path d="M46.40,360.40 L46.40,373.78 L51.80,373.78 L51.80,387.17 L79.80,387.17 L79.80,400.55 L84.60,400.55 L84.60,413.85 L86.40,413.85 L86.40,427.23 L87.80,427.23 L87.80,440.62 L93.60,440.62 L93.60,454.00" fill="none" stroke="#000" stroke-width="1.3" stroke-linejoin="miter"/>
<path d="M45.70,360.40 L45.70,373.78" fill="none" stroke="#000" stroke-width="3.2" stroke-linejoin="miter"/>
<path d="M45.70,373.78 L48.50,373.78 L48.50,440.62" fill="none" stroke="#000" stroke-width="2.7" stroke-linejoin="miter"/>
<path d="M47.70,440.62 L47.70,454.00" fill="none" stroke="#000" stroke-width="1.2" stroke-linejoin="miter"/>
<path d="M50.20,440.62 L50.20,454.00" fill="none" stroke="#000" stroke-width="1.2" stroke-linejoin="miter"/>
<rect x="43.2" y="397.0" width="7.0" height="7.0" fill="#000"/>
<rect x="45.5" y="436.9" width="7.0" height="7.0" fill="#000"/>
<rect x="48.1" y="450.5" width="7.0" height="7.0" fill="#000"/>
<rect x="44.4" y="370.2" width="6.2" height="6.2" fill="#fff" stroke="#000" stroke-width="1.2"/>
<rect x="41.5" y="370.2" width="6.2" height="6.2" fill="#fff" stroke="#000" stroke-width="1.2"/>
<circle cx="45.5" cy="373.1" r="3.4" fill="#fff" stroke="#000" stroke-width="1.4"/>
<rect x="44.599999999999994" y="450.7" width="6.4" height="6.4" fill="#fff" stroke="#000" stroke-width="1.2"/>
<circle cx="51.5" cy="387.0" r="3.45" fill="#fff" stroke="#000" stroke-width="1.4"/>
<circle cx="59.6" cy="387.0" r="3.6" fill="#000"/>
<circle cx="79.8" cy="400.4" r="3.45" fill="#fff" stroke="#000" stroke-width="1.4"/>
<circle cx="84.6" cy="413.6" r="3.45" fill="#fff" stroke="#000" stroke-width="1.4"/>
<circle cx="86.4" cy="427.2" r="3.45" fill="#fff" stroke="#000" stroke-width="1.4"/>
<circle cx="87.8" cy="440.6" r="3.45" fill="#fff" stroke="#000" stroke-width="1.4"/>
<circle cx="93.6" cy="454" r="3.45" fill="#fff" stroke="#000" stroke-width="1.4"/>
<circle cx="98.4" cy="400.4" r="3.7" fill="#000"/>
<circle cx="147.8" cy="413.8" r="3.7" fill="#000"/>
<circle cx="156" cy="413.8" r="3.7" fill="#000"/>
</svg>
</body></html>
